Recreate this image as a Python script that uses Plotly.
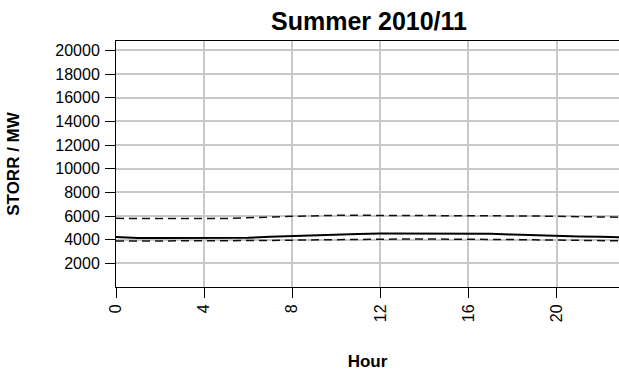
import plotly.graph_objects as go

hours = list(range(24))
storr_mean = [4225, 4141, 4141, 4141, 4141, 4141, 4160, 4240, 4310, 4370, 4430, 4480,
              4513, 4513, 4513, 4513, 4513, 4510, 4430, 4360, 4300, 4270, 4240, 4190]
storr_upper = [5800, 5780, 5780, 5780, 5780, 5790, 5830, 5910, 5975, 6030, 6059, 6059,
               6059, 6059, 6059, 6059, 6059, 6059, 6040, 6000, 5975, 5960, 5930, 5890]
storr_lower = [3880, 3880, 3880, 3880, 3880, 3880, 3900, 3930, 3960, 3990, 4020, 4050,
               4056, 4056, 4056, 4056, 4050, 4040, 4010, 3985, 3955, 3940, 3920, 3900]
x_ticks = [0, 4, 8, 12, 16, 20]
y_ticks = [2000, 4000, 6000, 8000, 10000, 12000, 14000, 16000, 18000, 20000]

FONT = "Liberation Sans, Arial, sans-serif"

fig = go.Figure()
fig.add_trace(go.Scatter(x=hours, y=storr_upper, mode="lines",
                         line=dict(color="#111111", width=1.5, dash="8px,5px"), showlegend=False))
fig.add_trace(go.Scatter(x=hours, y=storr_lower, mode="lines",
                         line=dict(color="#111111", width=1.5, dash="8px,5px"), showlegend=False))
fig.add_trace(go.Scatter(x=hours, y=storr_mean, mode="lines",
                         line=dict(color="black", width=2), showlegend=False))

fig.update_layout(
    width=619, height=372,
    margin=dict(l=116, r=0, t=41, b=85),
    paper_bgcolor="white", plot_bgcolor="white",
    font=dict(family=FONT, color="black", size=16),
    title=dict(text="<b>Summer 2010/11</b>", font=dict(size=25, family=FONT),
               xref="container", x=369/619, xanchor="center",
               yref="container", y=1 - 21/372, yanchor="middle"),
    xaxis=dict(range=[0, (619 - 116.7) / 22], tickvals=x_ticks, ticktext=[str(v) for v in x_ticks],
               tickangle=-90, ticks="outside", ticklen=10, tickcolor="black", tickwidth=1,
               showline=True, linecolor="black", linewidth=1, mirror=True,
               showgrid=True, gridcolor="#c8c8c8", gridwidth=1.5, zeroline=False,
               tickfont=dict(size=16),
               title=dict(text="<b>Hour</b>", font=dict(size=17), standoff=33)),
    yaxis=dict(range=[0, 20790], tickvals=y_ticks, ticktext=[str(v) for v in y_ticks],
               ticks="outside", ticklen=10, tickcolor="black", tickwidth=1,
               ticklabelstandoff=2,
               showline=True, linecolor="black", linewidth=1, mirror=True,
               showgrid=True, gridcolor="#c8c8c8", gridwidth=1.5, zeroline=False,
               tickfont=dict(size=16),
               title=dict(text="<b>STORR / MW</b>", font=dict(size=17), standoff=31)),
)

fig.write_html("out.html")
